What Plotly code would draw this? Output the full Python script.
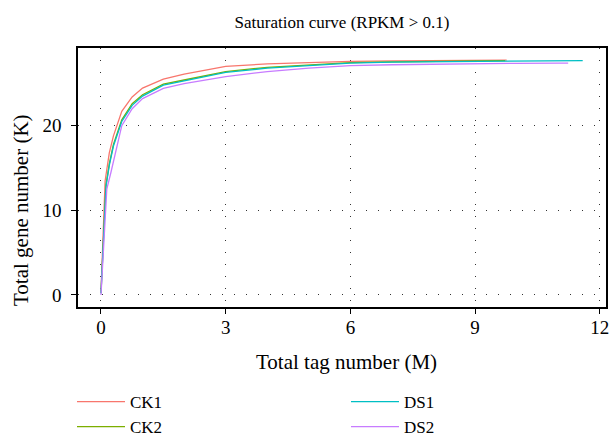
import plotly.graph_objects as go

series_names = ["CK1", "CK2", "DS1", "DS2"]
colors = ["#F8766D", "#7CAE00", "#00BFC4", "#C77CFF"]

ck1_x = [0, 0.1, 0.2, 0.3, 0.5, 0.75, 1.0, 1.5, 2, 3, 4, 5, 6, 7, 8, 9, 9.76]
ck1_y = [0.4, 13.5, 16.8, 18.8, 21.7, 23.4, 24.45, 25.5, 26.1, 27.0, 27.3, 27.45, 27.6, 27.65, 27.7, 27.72, 27.75]

ck2_x = [0, 0.12, 0.2, 0.3, 0.5, 0.75, 1, 1.5, 2, 3, 4, 5, 6, 7, 8, 9, 9.72]
ck2_y = [0.2, 13.0, 15.5, 17.8, 20.7, 22.6, 23.66, 24.9, 25.4, 26.4, 26.9, 27.2, 27.45, 27.55, 27.62, 27.68, 27.7]

ds1_x = [0, 0.12, 0.2, 0.3, 0.5, 0.75, 1, 1.5, 2, 3, 4, 5, 6, 7, 8, 9, 10, 11, 11.59]
ds1_y = [0.2, 12.8, 15.3, 17.6, 20.5, 22.4, 23.5, 24.8, 25.3, 26.3, 26.8, 27.1, 27.4, 27.5, 27.55, 27.6, 27.65, 27.68, 27.7]

ds2_x = [0, 0.14, 0.24, 0.35, 0.5, 0.75, 1, 1.5, 2, 3, 4, 5, 6, 7, 8, 9, 10, 11, 11.24]
ds2_y = [0.0, 12.5, 14.5, 17.0, 20.0, 22.0, 23.2, 24.4, 24.96, 25.8, 26.4, 26.8, 27.1, 27.2, 27.28, 27.33, 27.37, 27.4, 27.4]

x_ticks = [0, 3, 6, 9, 12]
y_ticks = [0, 10, 20]

title_text = "Saturation curve (RPKM > 0.1)"
x_title = "Total tag number (M)"
y_title = "Total gene number (K)"

xs = [ck1_x, ck2_x, ds1_x, ds2_x]
ys = [ck1_y, ck2_y, ds1_y, ds2_y]
legends = ["legend", "legend", "legend2", "legend2"]

FONT = "Liberation Serif, Times New Roman, serif"
W, H = 609, 436
# plot-area pixel box
PL, PR, PT, PB = 78, 606, 48, 307

fig = go.Figure()
for name, c, x, y, lg in zip(series_names, colors, xs, ys, legends):
    fig.add_trace(go.Scatter(x=x, y=y, mode="lines", name=name,
                             line=dict(color=c, width=1.3), legend=lg))

axis_common = dict(
    showline=True, linecolor="black", linewidth=1.5, mirror=True,
    ticks="outside", ticklen=5, tickcolor="black", tickwidth=1,
    showgrid=True, gridcolor="#333333", gridwidth=1.3, griddash="1.3px,10.7px",
    zeroline=False, tickfont=dict(family=FONT, size=19, color="black"),
    ticklabeloverflow="allow",
)

legend_common = dict(xref="paper", yref="paper", xanchor="left", yanchor="top",
                     font=dict(family=FONT, size=17, color="black"), tracegroupgap=0,
                     itemwidth=48, bgcolor="rgba(0,0,0,0)")

fig.update_layout(
    width=W, height=H,
    margin=dict(l=0, r=0, t=0, b=0, autoexpand=False),
    paper_bgcolor="white", plot_bgcolor="white",
    font=dict(family=FONT, color="black"),
    title=dict(text=title_text, x=(PL + PR) / 2 / W, xref="container",
               xanchor="center", y=1 - 22 / H, yref="container", yanchor="middle",
               font=dict(family=FONT, size=17, color="black")),
    xaxis=dict(domain=[PL / W, PR / W], range=[-0.553, 12.15], tickvals=x_ticks,
               ticktext=[str(v) for v in x_ticks], ticklabelstandoff=-3, **axis_common),
    yaxis=dict(domain=[1 - PB / H, 1 - PT / H], range=[-1.42, 29.18], tickvals=y_ticks,
               ticktext=[str(v) for v in y_ticks], ticklabelstandoff=6, **axis_common),
    legend=dict(x=72 / W, y=1 - 384 / H, **legend_common),
    legend2=dict(x=346 / W, y=1 - 384 / H, **legend_common),
    annotations=[
        dict(text=x_title, xref="paper", yref="paper", x=346 / W, y=1 - 362 / H,
             xanchor="center", yanchor="middle", showarrow=False,
             font=dict(family=FONT, size=21, color="black")),
        dict(text=y_title, xref="paper", yref="paper", x=21 / W, y=1 - 210 / H,
             xanchor="center", yanchor="middle", showarrow=False, textangle=-90,
             font=dict(family=FONT, size=21, color="black")),
    ],
)

fig.write_html("out.html", config={"displayModeBar": False},
               post_script="document.body.style.margin='0';document.body.style.overflow='hidden';")
